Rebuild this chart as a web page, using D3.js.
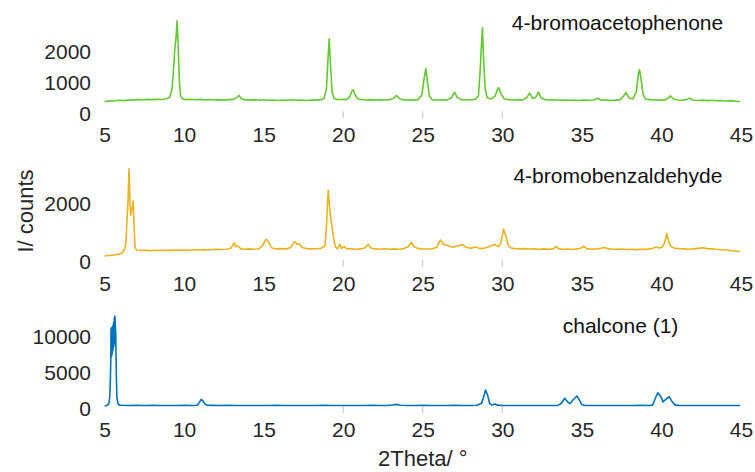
<!DOCTYPE html>
<html>
<head>
<meta charset="utf-8">
<script src="https://cdn.jsdelivr.net/npm/d3@7"></script>
<style>
  html, body { margin: 0; padding: 0; background: #fff; }
  svg { display: block; font-family: "Liberation Sans", Arial, sans-serif; }
</style>
</head>
<body>
<svg id="chart" width="755" height="472"></svg>
<script>
// Powder X-ray diffraction patterns: [2θ (°), intensity (counts)]
const acetophenonePattern = [
  [5.0,375],[5.3,400],[5.6,395],[5.9,420],[6.2,410],[6.5,430],[6.8,425],[7.1,445],[7.4,430],[7.7,450],
  [8.0,440],[8.3,455],[8.6,445],[8.9,470],[9.1,520],[9.25,800],[9.35,1500],[9.42,2100],[9.5,2450],[9.56,2980],
  [9.62,2300],[9.7,1100],[9.78,560],[9.9,470],[10.1,440],[10.4,455],[10.7,435],[11.0,450],[11.3,430],[11.6,445],
  [11.9,430],[12.2,440],[12.5,425],[12.8,440],[13.1,450],[13.3,500],[13.45,580],[13.6,470],[13.8,440],[14.1,425],
  [14.4,440],[14.7,420],[15.0,435],[15.3,420],[15.6,430],[15.9,415],[16.2,430],[16.5,420],[16.8,435],[17.1,420],
  [17.4,430],[17.7,415],[18.0,430],[18.3,425],[18.6,440],[18.8,480],[18.95,800],[19.05,1800],[19.12,2400],[19.2,1600],
  [19.3,700],[19.42,480],[19.6,450],[19.8,445],[20.0,450],[20.2,440],[20.4,520],[20.55,720],[20.63,756],[20.75,600],
  [20.9,470],[21.1,445],[21.4,430],[21.7,440],[22.0,425],[22.3,435],[22.6,430],[22.9,440],[23.15,480],[23.35,570],
  [23.55,470],[23.8,430],[24.1,435],[24.4,425],[24.7,440],[24.95,600],[25.08,1100],[25.19,1440],[25.3,1000],[25.42,550],
  [25.6,440],[25.9,430],[26.2,435],[26.5,425],[26.8,500],[27.0,680],[27.15,520],[27.4,440],[27.7,435],[28.0,430],
  [28.3,450],[28.5,560],[28.62,1500],[28.68,2100],[28.75,2760],[28.82,1800],[28.92,800],[29.05,500],[29.3,460],[29.55,560],
  [29.7,780],[29.77,830],[29.9,650],[30.1,480],[30.4,440],[30.7,430],[31.0,440],[31.3,430],[31.55,520],[31.72,650],
  [31.9,480],[32.1,520],[32.28,680],[32.45,490],[32.7,440],[33.0,430],[33.3,435],[33.6,420],[33.9,430],[34.2,420],
  [34.5,425],[34.8,415],[35.1,430],[35.4,420],[35.7,430],[36.0,480],[36.2,430],[36.5,425],[36.8,415],[37.1,425],
  [37.4,440],[37.62,560],[37.78,670],[37.95,500],[38.2,460],[38.42,700],[38.55,1250],[38.62,1405],[38.72,1100],[38.85,600],
  [39.0,460],[39.3,440],[39.6,430],[39.9,425],[40.2,430],[40.4,480],[40.57,560],[40.75,460],[41.0,430],[41.3,420],
  [41.55,440],[41.76,490],[41.95,430],[42.3,415],[42.6,425],[42.9,410],[43.2,420],[43.5,405],[43.8,415],[44.1,395],
  [44.4,410],[44.7,390],[44.95,380]
];

const benzaldehydePattern = [
  [5.0,195],[5.3,215],[5.6,230],[5.9,255],[6.1,300],[6.25,420],[6.35,650],[6.42,1500],[6.48,2100],[6.54,3200],
  [6.6,2000],[6.65,1600],[6.72,1800],[6.8,2100],[6.86,1200],[6.92,470],[7.05,400],[7.3,390],[7.6,395],[7.9,380],
  [8.2,390],[8.5,385],[8.8,395],[9.1,390],[9.4,400],[9.7,395],[10.0,405],[10.3,395],[10.6,410],[10.9,400],
  [11.2,415],[11.5,405],[11.8,420],[12.1,425],[12.4,420],[12.7,430],[12.95,470],[13.1,600],[13.15,650],[13.25,520],
  [13.4,540],[13.55,450],[13.8,430],[14.1,440],[14.4,430],[14.7,445],[14.95,560],[15.1,740],[15.2,767],[15.35,640],
  [15.5,480],[15.8,440],[16.1,450],[16.4,440],[16.7,490],[16.88,650],[16.97,685],[17.1,600],[17.25,610],[17.4,500],
  [17.7,450],[18.0,440],[18.3,445],[18.6,460],[18.85,540],[18.95,1200],[19.02,2100],[19.06,2455],[19.12,2000],[19.2,1600],
  [19.3,1200],[19.4,800],[19.52,500],[19.65,440],[19.79,600],[19.9,460],[20.05,530],[20.2,450],[20.5,440],[20.8,430],
  [21.1,440],[21.35,470],[21.57,595],[21.75,470],[22.0,440],[22.3,430],[22.6,445],[22.9,430],[23.2,440],[23.5,430],
  [23.8,450],[24.1,520],[24.29,663],[24.45,520],[24.7,450],[25.0,440],[25.3,435],[25.6,445],[25.9,500],[26.05,700],
  [26.13,743],[26.3,600],[26.6,550],[26.9,500],[27.2,540],[27.47,595],[27.7,500],[28.0,460],[28.35,510],[28.6,450],
  [28.9,470],[29.2,520],[29.52,595],[29.75,520],[29.9,620],[30.0,900],[30.08,1120],[30.18,950],[30.25,835],[30.38,560],
  [30.55,470],[30.8,450],[31.1,440],[31.4,450],[31.7,435],[32.0,440],[32.3,430],[32.6,440],[32.9,425],[33.2,440],
  [33.4,530],[33.55,440],[33.8,430],[34.1,435],[34.4,420],[34.7,440],[34.95,470],[35.12,530],[35.3,450],[35.6,430],
  [35.9,440],[36.2,460],[36.38,490],[36.6,450],[36.9,430],[37.2,425],[37.5,435],[37.8,420],[38.1,425],[38.4,415],
  [38.7,430],[39.0,425],[39.3,440],[39.55,480],[39.67,510],[39.85,470],[40.05,500],[40.2,650],[40.34,972],[40.45,700],
  [40.6,520],[40.8,470],[41.1,450],[41.4,440],[41.7,430],[42.0,440],[42.3,460],[42.6,480],[42.9,450],[43.2,440],
  [43.5,420],[43.8,410],[44.1,400],[44.4,380],[44.7,370],[44.95,343]
];

const chalconePattern = [
  [5.0,320],[5.1,360],[5.2,450],[5.28,700],[5.33,1600],[5.37,4000],[5.40,7500],[5.41,11100],[5.42,7200],[5.43,10500],
  [5.44,8000],[5.45,11300],[5.46,7400],[5.47,10900],[5.48,7600],[5.49,11200],[5.50,7800],[5.51,10800],[5.52,8400],[5.53,11600],
  [5.54,8200],[5.55,11400],[5.56,9000],[5.57,12000],[5.58,8600],[5.59,11800],[5.60,9500],[5.61,12600],[5.62,9100],[5.63,12300],
  [5.64,10200],[5.65,12900],[5.66,9600],[5.67,12500],[5.68,9800],[5.69,11500],[5.70,8800],[5.71,10400],[5.72,8100],[5.75,4000],
  [5.78,1600],[5.84,700],[5.92,450],[6.1,420],[6.5,400],[7.0,410],
  [7.5,395],[8.0,405],[8.5,390],[9.0,400],[9.5,395],[10.0,405],[10.5,400],[10.85,430],[10.98,900],[11.08,1250],
  [11.18,1050],[11.3,650],[11.42,430],[11.8,405],[12.3,395],[12.8,405],[13.3,395],[13.8,400],[14.3,390],[14.8,400],
  [15.3,395],[15.8,405],[16.3,395],[16.8,400],[17.3,390],[17.8,400],[18.3,395],[18.8,405],[19.3,395],[19.8,400],
  [20.3,390],[20.8,400],[21.3,395],[21.8,405],[22.3,400],[22.8,410],[23.1,460],[23.35,550],[23.6,430],[24.0,400],
  [24.5,395],[25.0,405],[25.5,395],[26.0,400],[26.5,395],[27.0,405],[27.5,395],[28.0,400],[28.4,420],[28.7,700],
  [28.85,1800],[28.95,2560],[29.08,1800],[29.2,700],[29.35,450],[29.55,600],[29.7,430],[30.0,405],[30.5,395],[31.0,400],
  [31.5,390],[32.0,400],[32.5,395],[33.0,400],[33.5,410],[33.72,700],[33.92,1400],[34.1,900],[34.25,650],[34.45,1200],
  [34.69,1720],[34.85,1100],[35.0,500],[35.2,410],[35.7,400],[36.2,395],[36.7,400],[37.2,390],[37.7,400],[38.2,395],
  [38.7,405],[39.2,400],[39.45,450],[39.6,1300],[39.77,2180],[39.95,1700],[40.1,900],[40.3,1300],[40.49,1620],[40.65,1000],
  [40.85,480],[41.1,410],[41.6,400],[42.1,395],[42.6,400],[43.1,390],[43.6,400],[44.1,395],[44.6,400],[44.95,390]
];

const sampleNames = ["4-bromoacetophenone", "4-bromobenzaldehyde", "chalcone (1)"];
const thetaTicks = [5, 10, 15, 20, 25, 30, 35, 40, 45];
const acetophenoneTicks = [0, 1000, 2000];
const benzaldehydeTicks = [0, 2000];
const chalconeTicks = [0, 5000, 10000];
const visibleTickMarks = [20, 25, 30];
const xLabel = "2Theta/ °";
const yLabel = "I/ counts";

// ---- layout ----
const svg = d3.select("#chart");
const FONT = 21;
const x = d3.scaleLinear().domain([5, 45]).range([104.5, 741]);

const panels = [
  { name: sampleNames[0], data: acetophenonePattern, ticks: acetophenoneTicks, color: "#62c92e",
    yMax: 3000, zeroY: 113.3, labelX: 30.6, labelY: 2680 },
  { name: sampleNames[1], data: benzaldehydePattern, ticks: benzaldehydeTicks, color: "#edb120",
    yMax: 3200, zeroY: 261.7, labelX: 30.7, labelY: 2720 },
  { name: sampleNames[2], data: chalconePattern, ticks: chalconeTicks, color: "#0072bd",
    yMax: 13000, zeroY: 408.3, labelX: 33.8, labelY: 10480 }
];
const panelHeight = 93;

panels.forEach(p => {
  const y = d3.scaleLinear().domain([0, p.yMax]).range([p.zeroY, p.zeroY - panelHeight]);
  const g = svg.append("g");

  // faint bottom tick marks
  g.selectAll("line.tm").data(visibleTickMarks).join("line")
    .attr("class", "tm")
    .attr("x1", d => x(d)).attr("x2", d => x(d))
    .attr("y1", p.zeroY - 2).attr("y2", p.zeroY + 5)
    .attr("stroke", "#c4c4c4").attr("stroke-width", 1);

  // x tick labels
  const xa = g.append("g")
    .attr("transform", `translate(0,${p.zeroY + 14})`)
    .call(d3.axisBottom(x).tickValues(thetaTicks).tickSize(0).tickPadding(0).tickFormat(d3.format("d")));
  xa.select(".domain").remove();
  xa.selectAll("text").attr("font-size", FONT).attr("fill", "#262626")
    .attr("font-family", "Liberation Sans, Arial, sans-serif");

  // y tick labels
  const ya = g.append("g")
    .attr("transform", "translate(91,0)")
    .call(d3.axisLeft(y).tickValues(p.ticks).tickSize(0).tickPadding(0).tickFormat(d3.format("d")));
  ya.select(".domain").remove();
  ya.selectAll("text").attr("font-size", FONT).attr("fill", "#262626")
    .attr("font-family", "Liberation Sans, Arial, sans-serif");

  // diffraction pattern
  const line = d3.line().x(d => x(d[0])).y(d => y(d[1]));
  g.append("path")
    .datum(p.data)
    .attr("d", line)
    .attr("fill", "none")
    .attr("stroke", p.color)
    .attr("stroke-width", 1.6)
    .attr("stroke-linejoin", "round");

  // sample name
  g.append("text")
    .attr("x", x(p.labelX)).attr("y", y(p.labelY))
    .attr("font-size", FONT).attr("fill", "#111")
    .text(p.name);
});

// axis titles
svg.append("text")
  .attr("x", x(25)).attr("y", 466)
  .attr("text-anchor", "middle")
  .attr("font-size", 22).attr("fill", "#262626")
  .text(xLabel);

svg.append("text")
  .attr("transform", "translate(33,211) rotate(-90)")
  .attr("text-anchor", "middle")
  .attr("font-size", 22).attr("fill", "#262626")
  .text(yLabel);
</script>
</body>
</html>
